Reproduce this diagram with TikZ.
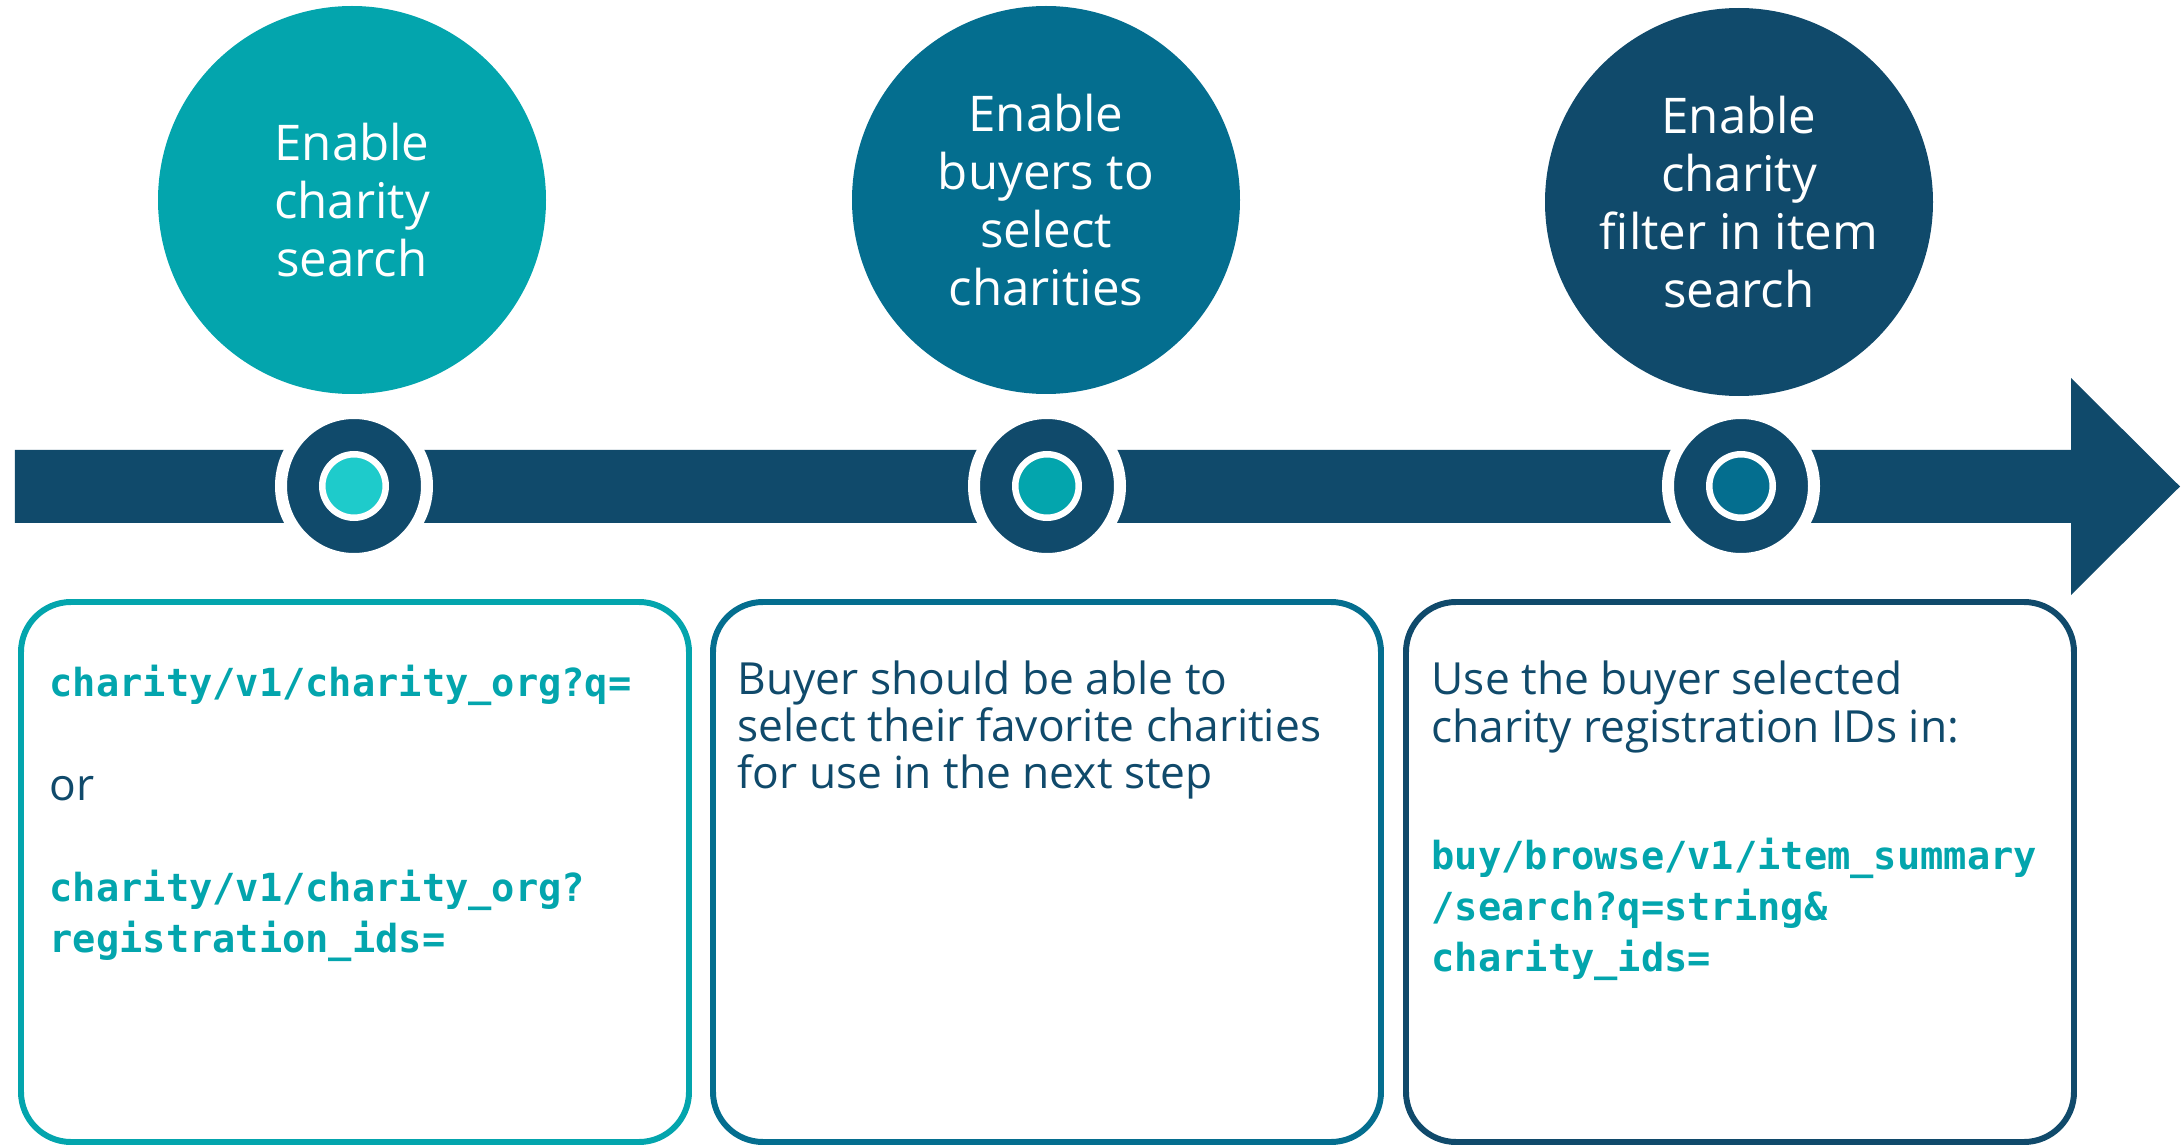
\documentclass[tikz,border=0pt]{standalone}
\usepackage{fontspec}
\setmainfont{Open Sans}
\newfontfamily\codefont{DejaVu Sans Mono}
\definecolor{navy}{RGB}{16,74,107}
\definecolor{petrol}{RGB}{4,110,143}
\definecolor{teal}{RGB}{3,165,173}
\definecolor{aqua}{RGB}{30,203,203}
\usetikzlibrary{positioning}

\begin{document}
\begin{tikzpicture}[
    goal/.style={circle, minimum size=3.88cm, inner sep=0pt, align=center, text=white,
                 font=\fontsize{14}{16.5}\selectfont},
    marker/.style={circle, fill=navy, draw=white, line width=0.12cm, minimum size=1.46cm, inner sep=0pt},
    dot/.style={circle, draw=white, line width=0.065cm, minimum size=0.635cm, inner sep=0pt},
    notebox/.style={draw, line width=1.7pt, rounded corners=0.5cm, minimum width=6.68cm, minimum height=5.40cm},
    body/.style={anchor=west, align=left, inner sep=0pt, text=navy, font=\fontsize{12.6}{13.4}\selectfont},
    code/.style={anchor=west, align=left, inner sep=0pt, text=teal, font=\codefont\bfseries\fontsize{11}{14.5}\selectfont}
]
    \useasboundingbox (0,0) rectangle (21.81,11.45);

    % timeline arrow
    \fill[navy] (0.15,6.22) -- (20.71,6.22) -- (20.71,5.50) -- (21.80,6.585)
        -- (20.71,7.67) -- (20.71,6.95) -- (0.15,6.95) -- cycle;

    % goals
    \node[goal, fill=teal] (goal1) at (3.52,9.45) {Enable\\charity\\search};
    \node[goal, fill=petrol] (goal2) at (10.46,9.45) {Enable\\buyers to\\select\\charities};
    \node[goal, fill=navy] (goal3) at (17.39,9.43) {Enable\\charity\\filter in item\\search};

    % markers on the timeline
    \node[marker] (mark1) at (3.54,6.59) {};
    \node[dot, fill=aqua] at (mark1) {};
    \node[marker] (mark2) at (10.47,6.59) {};
    \node[dot, fill=teal] at (mark2) {};
    \node[marker] (mark3) at (17.41,6.59) {};
    \node[dot, fill=petrol] at (mark3) {};

    % notes
    \node[notebox, draw=teal] (note1) at (3.55,2.73) {};
    \node[notebox, draw=petrol] (note2) at (10.47,2.73) {};
    \node[notebox, draw=navy] (note3) at (17.40,2.73) {};

    \node[code] (query1) at (0.49,4.60) {charity/v1/charity\_org?q=};
    \node[body] (orword) at (0.49,3.56) {or};
    \node[code] (query2) at (0.49,2.29) {charity/v1/charity\_org?\\registration\_ids=};

    \node[body] (select) at (7.37,4.15) {Buyer should be able to\\select their favorite charities\\for use in the next step};

    \node[body] (usage) at (14.31,4.38) {Use the buyer selected\\charity registration IDs in:};
    \node[code] (query3) at (14.31,2.36) {buy/browse/v1/item\_summary\\/search?q=string\&\\charity\_ids=};
\end{tikzpicture}
\end{document}
